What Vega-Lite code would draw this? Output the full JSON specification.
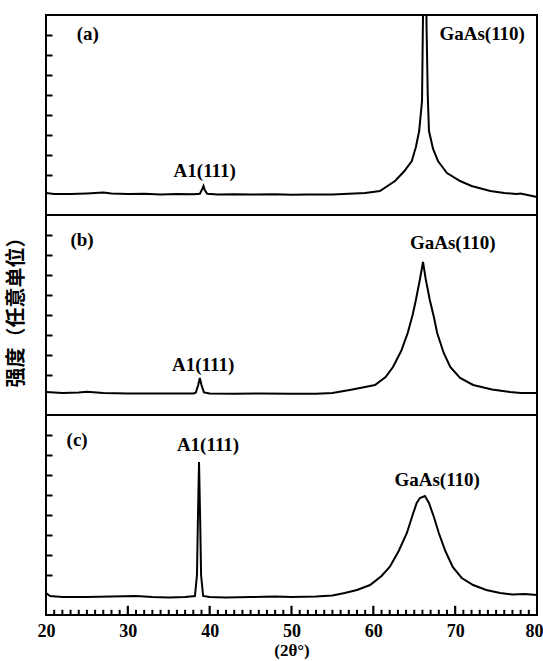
{
  "$schema": "https://vega.github.io/schema/vega-lite/v6.json",
  "padding": {"left": 5, "top": 14, "right": 0, "bottom": 0},
  "background": "white",
  "bounds": "flush",
  "config": {
    "view": {"stroke": "black", "strokeWidth": 2},
    "concat": {"spacing": 0},
    "axis": {"grid": false, "domain": false, "tickColor": "black", "minExtent": 0, "tickCount": 100}
  },
  "datasets": {
    "xrd": [
      {"p":"a","x":20,"y":11},{"p":"a","x":21,"y":10.5},{"p":"a","x":23,"y":10.5},{"p":"a","x":25,"y":10.8},{"p":"a","x":27,"y":11.2},{"p":"a","x":28,"y":10.7},{"p":"a","x":30,"y":10.5},{"p":"a","x":32,"y":10.6},{"p":"a","x":34,"y":10.3},{"p":"a","x":36,"y":10.5},{"p":"a","x":38,"y":10.4},{"p":"a","x":38.8,"y":10.6},{"p":"a","x":39.1,"y":13},{"p":"a","x":39.25,"y":14.5},{"p":"a","x":39.4,"y":12.5},{"p":"a","x":39.7,"y":10.6},{"p":"a","x":41,"y":10.3},{"p":"a","x":43,"y":10.4},{"p":"a","x":45,"y":10.2},{"p":"a","x":48,"y":10.4},{"p":"a","x":50,"y":10.1},{"p":"a","x":52,"y":10.3},{"p":"a","x":55,"y":10.3},{"p":"a","x":57,"y":10.6},{"p":"a","x":59,"y":11},{"p":"a","x":60.8,"y":12},{"p":"a","x":62.65,"y":17},{"p":"a","x":63.8,"y":22},{"p":"a","x":64.7,"y":27},{"p":"a","x":65.2,"y":34},{"p":"a","x":65.6,"y":42},{"p":"a","x":65.95,"y":57},{"p":"a","x":66.07,"y":100},{"p":"a","x":66.15,"y":115},{"p":"a","x":66.45,"y":115},{"p":"a","x":66.5,"y":95},{"p":"a","x":66.65,"y":60},{"p":"a","x":66.8,"y":42},{"p":"a","x":67.3,"y":33},{"p":"a","x":67.9,"y":27},{"p":"a","x":69,"y":21},{"p":"a","x":70.6,"y":17},{"p":"a","x":72,"y":14.5},{"p":"a","x":74.3,"y":12},{"p":"a","x":76,"y":11},{"p":"a","x":77.5,"y":10.5},{"p":"a","x":78,"y":10.7},{"p":"a","x":80,"y":9},
      {"p":"b","x":20,"y":11.5},{"p":"b","x":22,"y":11},{"p":"b","x":24,"y":11.2},{"p":"b","x":25,"y":11.6},{"p":"b","x":27,"y":11},{"p":"b","x":30,"y":10.8},{"p":"b","x":33,"y":10.8},{"p":"b","x":36,"y":10.7},{"p":"b","x":38,"y":10.8},{"p":"b","x":38.3,"y":11.2},{"p":"b","x":38.6,"y":15},{"p":"b","x":38.8,"y":18.5},{"p":"b","x":39.0,"y":15},{"p":"b","x":39.3,"y":11.3},{"p":"b","x":40,"y":10.7},{"p":"b","x":43,"y":10.6},{"p":"b","x":46,"y":10.8},{"p":"b","x":50,"y":10.6},{"p":"b","x":53,"y":10.6},{"p":"b","x":55,"y":11},{"p":"b","x":57.1,"y":12.5},{"p":"b","x":59,"y":14},{"p":"b","x":60.2,"y":15},{"p":"b","x":61.5,"y":19},{"p":"b","x":62.4,"y":24},{"p":"b","x":63.4,"y":32},{"p":"b","x":64.2,"y":41},{"p":"b","x":64.8,"y":50},{"p":"b","x":65.2,"y":57.5},{"p":"b","x":65.7,"y":68},{"p":"b","x":66.07,"y":76.5},{"p":"b","x":66.4,"y":68},{"p":"b","x":66.9,"y":57.5},{"p":"b","x":67.4,"y":49},{"p":"b","x":67.8,"y":41},{"p":"b","x":68.6,"y":31},{"p":"b","x":69.4,"y":24},{"p":"b","x":70.6,"y":18.5},{"p":"b","x":72.2,"y":15},{"p":"b","x":74.5,"y":12.8},{"p":"b","x":76.7,"y":11.5},{"p":"b","x":78,"y":11},{"p":"b","x":80,"y":11},
      {"p":"c","x":20,"y":11},{"p":"c","x":20.5,"y":9.5},{"p":"c","x":22,"y":9},{"p":"c","x":25,"y":9},{"p":"c","x":28,"y":9.2},{"p":"c","x":31,"y":9.5},{"p":"c","x":33,"y":9},{"p":"c","x":35,"y":8.8},{"p":"c","x":37,"y":9},{"p":"c","x":38.2,"y":9.5},{"p":"c","x":38.45,"y":20},{"p":"c","x":38.55,"y":45},{"p":"c","x":38.7,"y":76.5},{"p":"c","x":38.85,"y":45},{"p":"c","x":38.95,"y":20},{"p":"c","x":39.2,"y":9.5},{"p":"c","x":40,"y":9},{"p":"c","x":42,"y":8.8},{"p":"c","x":45,"y":9},{"p":"c","x":48,"y":9.2},{"p":"c","x":50,"y":9},{"p":"c","x":53,"y":9.2},{"p":"c","x":55,"y":9.8},{"p":"c","x":56.5,"y":11},{"p":"c","x":58,"y":12.5},{"p":"c","x":59.6,"y":15},{"p":"c","x":61,"y":19.5},{"p":"c","x":62,"y":24},{"p":"c","x":63.1,"y":32},{"p":"c","x":64.1,"y":41},{"p":"c","x":64.8,"y":50},{"p":"c","x":65.3,"y":56},{"p":"c","x":65.7,"y":58.5},{"p":"c","x":66.3,"y":59.5},{"p":"c","x":66.8,"y":56},{"p":"c","x":67.4,"y":49},{"p":"c","x":68,"y":41},{"p":"c","x":68.8,"y":32},{"p":"c","x":69.7,"y":24},{"p":"c","x":70.8,"y":18.5},{"p":"c","x":72.2,"y":15},{"p":"c","x":73.8,"y":12.5},{"p":"c","x":75.5,"y":11},{"p":"c","x":77,"y":10.2},{"p":"c","x":78.5,"y":10.5},{"p":"c","x":80,"y":10}
    ],
    "labels": [
      {"p":"a","x":25.1,"y":90.5,"t":"(a)"},{"p":"a","x":39.4,"y":22,"t":"A1(111)"},{"p":"a","x":73.3,"y":90.5,"t":"GaAs(110)"},
      {"p":"b","x":24.4,"y":87.5,"t":"(b)"},{"p":"b","x":39.2,"y":25,"t":"A1(111)"},{"p":"b","x":69.7,"y":86,"t":"GaAs(110)"},
      {"p":"c","x":23.8,"y":87.5,"t":"(c)"},{"p":"c","x":39.8,"y":85,"t":"A1(111)"},{"p":"c","x":67.8,"y":67.5,"t":"GaAs(110)"}
    ],
    "xticks": [
      {"v":21,"k":"minor"},{"v":22,"k":"minor"},{"v":23,"k":"minor"},{"v":24,"k":"minor"},{"v":25,"k":"minor"},{"v":26,"k":"minor"},{"v":27,"k":"minor"},{"v":28,"k":"minor"},{"v":29,"k":"minor"},{"v":30,"k":"major"},
      {"v":31,"k":"minor"},{"v":32,"k":"minor"},{"v":33,"k":"minor"},{"v":34,"k":"minor"},{"v":35,"k":"minor"},{"v":36,"k":"minor"},{"v":37,"k":"minor"},{"v":38,"k":"minor"},{"v":39,"k":"minor"},{"v":40,"k":"major"},
      {"v":41,"k":"minor"},{"v":42,"k":"minor"},{"v":43,"k":"minor"},{"v":44,"k":"minor"},{"v":45,"k":"minor"},{"v":46,"k":"minor"},{"v":47,"k":"minor"},{"v":48,"k":"minor"},{"v":49,"k":"minor"},{"v":50,"k":"major"},
      {"v":51,"k":"minor"},{"v":52,"k":"minor"},{"v":53,"k":"minor"},{"v":54,"k":"minor"},{"v":55,"k":"minor"},{"v":56,"k":"minor"},{"v":57,"k":"minor"},{"v":58,"k":"minor"},{"v":59,"k":"minor"},{"v":60,"k":"major"},
      {"v":61,"k":"minor"},{"v":62,"k":"minor"},{"v":63,"k":"minor"},{"v":64,"k":"minor"},{"v":65,"k":"minor"},{"v":66,"k":"minor"},{"v":67,"k":"minor"},{"v":68,"k":"minor"},{"v":69,"k":"minor"},{"v":70,"k":"major"},
      {"v":71,"k":"minor"},{"v":72,"k":"minor"},{"v":73,"k":"minor"},{"v":74,"k":"minor"},{"v":75,"k":"minor"},{"v":76,"k":"minor"},{"v":77,"k":"minor"},{"v":78,"k":"minor"},{"v":79,"k":"minor"}
    ]
  },
  "vconcat": [
    {
      "width": 491, "height": 200,
      "layer": [
        {"data": {"name": "xrd"}, "transform": [{"filter": "datum.p === 'a'"}],
         "mark": {"type": "line", "color": "black", "strokeWidth": 2, "clip": true},
         "encoding": {
           "x": {"field": "x", "type": "quantitative", "scale": {"domain": [20, 80], "nice": false, "zero": false}, "axis": null},
           "y": {"field": "y", "type": "quantitative", "scale": {"domain": [0, 100], "nice": false}, "axis": {"values": [20,30,40,50,60,70,80,90], "tickCount": 100, "tickSize": -6, "tickWidth": 2, "labels": false, "title": null}}
         }},
        {"data": {"name": "labels"}, "transform": [{"filter": "datum.p === 'a'"}],
         "mark": {"type": "text", "font": "Liberation Serif", "fontWeight": "bold", "fontSize": 19, "color": "black", "align": "center", "baseline": "middle"},
         "encoding": {
           "x": {"field": "x", "type": "quantitative"},
           "y": {"field": "y", "type": "quantitative"},
           "text": {"field": "t"}
         }}
      ]
    },
    {
      "width": 491, "height": 200,
      "layer": [
        {"data": {"name": "xrd"}, "transform": [{"filter": "datum.p === 'b'"}],
         "mark": {"type": "line", "color": "black", "strokeWidth": 2, "clip": true},
         "encoding": {
           "x": {"field": "x", "type": "quantitative", "scale": {"domain": [20, 80], "nice": false, "zero": false}, "axis": null},
           "y": {"field": "y", "type": "quantitative", "scale": {"domain": [0, 100], "nice": false}, "axis": {"values": [20,30,40,50,60,70,80,90], "tickCount": 100, "tickSize": -6, "tickWidth": 2, "labels": false, "title": "强度（任意单位）", "titleFont": "Noto Sans CJK SC", "titleFontWeight": "bold", "titleFontSize": 20, "titleColor": "black", "titlePadding": 19, "titleY": 92}}
         }},
        {"data": {"name": "labels"}, "transform": [{"filter": "datum.p === 'b'"}],
         "mark": {"type": "text", "font": "Liberation Serif", "fontWeight": "bold", "fontSize": 19, "color": "black", "align": "center", "baseline": "middle"},
         "encoding": {
           "x": {"field": "x", "type": "quantitative"},
           "y": {"field": "y", "type": "quantitative"},
           "text": {"field": "t"}
         }}
      ]
    },
    {
      "width": 491, "height": 200,
      "layer": [
        {"data": {"name": "xrd"}, "transform": [{"filter": "datum.p === 'c'"}],
         "mark": {"type": "line", "color": "black", "strokeWidth": 2, "clip": true},
         "encoding": {
           "x": {"field": "x", "type": "quantitative", "scale": {"domain": [20, 80], "nice": false, "zero": false},
                 "axis": {"orient": "bottom", "values": [20,30,40,50,60,70,80],
                          "tickCount": 100,
                          "ticks": false,
                          "format": "d",
                          "labelOverlap": false,
                          "labelFlush": false,
                          "labelAlign": {"condition": {"test": "datum.value === 80", "value": "right"}, "value": "center"},
                          "labelOffset": {"condition": {"test": "datum.value === 80", "value": 6}, "value": 0},
                          "labelFont": "Liberation Serif", "labelFontWeight": "bold", "labelFontSize": 18, "labelColor": "black", "labelPadding": 7,
                          "title": "(2θ°)", "titleFont": "Liberation Serif", "titleFontWeight": "bold", "titleFontSize": 17, "titleColor": "black", "titlePadding": 2}},
           "y": {"field": "y", "type": "quantitative", "scale": {"domain": [0, 100], "nice": false}, "axis": {"values": [20,30,40,50,60,70,80,90], "tickCount": 100, "tickSize": -6, "tickWidth": 2, "labels": false, "title": null}}
         }},
        {"data": {"name": "xticks"}, "transform": [{"filter": "datum.k === 'minor'"}],
         "mark": {"type": "rule", "color": "black", "strokeWidth": 2, "opacity": 1},
         "encoding": {
           "x": {"field": "v", "type": "quantitative"},
           "y": {"datum": 0},
           "y2": {"datum": 2.6}
         }},
        {"data": {"name": "xticks"}, "transform": [{"filter": "datum.k === 'major'"}],
         "mark": {"type": "rule", "color": "black", "strokeWidth": 2.2, "opacity": 1},
         "encoding": {
           "x": {"field": "v", "type": "quantitative"},
           "y": {"datum": 0},
           "y2": {"datum": 4.6}
         }},
        {"data": {"name": "labels"}, "transform": [{"filter": "datum.p === 'c'"}],
         "mark": {"type": "text", "font": "Liberation Serif", "fontWeight": "bold", "fontSize": 19, "color": "black", "align": "center", "baseline": "middle"},
         "encoding": {
           "x": {"field": "x", "type": "quantitative"},
           "y": {"field": "y", "type": "quantitative"},
           "text": {"field": "t"}
         }}
      ]
    }
  ]
}
